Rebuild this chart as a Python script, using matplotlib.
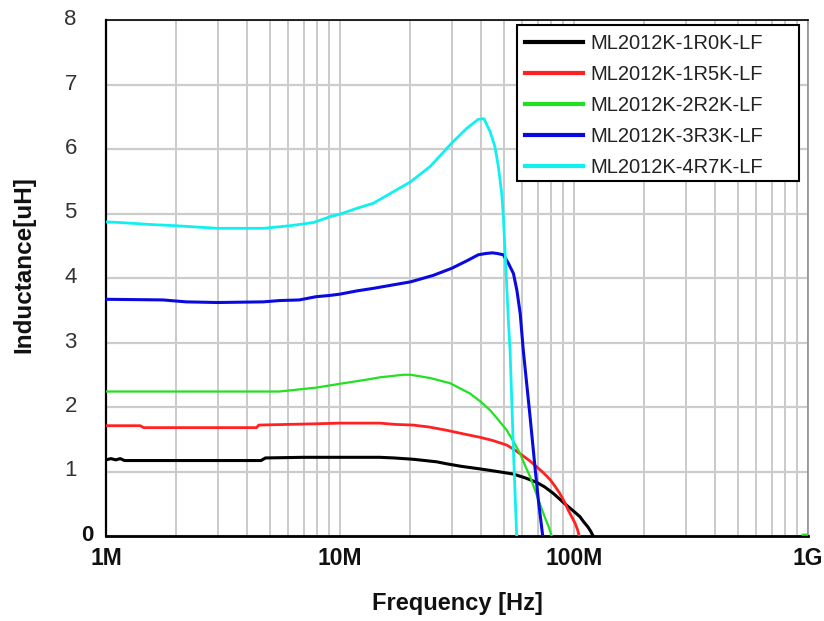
import numpy as np
import matplotlib
matplotlib.use("Agg")
import matplotlib.pyplot as plt
from matplotlib.patches import Rectangle
from matplotlib.transforms import ScaledTranslation

# ---------------- data (frequency in MHz, inductance in uH) ----------------
f_1r0 = [1.0, 1.05, 1.1, 1.15, 1.2, 2, 3, 4.6, 4.8, 7, 10, 14.8, 17, 20.5, 25.9, 28.5,
         33, 39.7, 47, 55.1, 62, 69.4, 75, 81.6, 87, 92.7, 100, 106, 110, 114.7, 118, 120.6]
l_1r0 = [1.18, 1.20, 1.18, 1.20, 1.17, 1.17, 1.17, 1.17, 1.21, 1.22, 1.22, 1.22, 1.21, 1.19,
         1.15, 1.12, 1.08, 1.04, 1.00, 0.96, 0.90, 0.83, 0.76, 0.66, 0.57, 0.48, 0.38, 0.30,
         0.22, 0.14, 0.07, 0.0]

f_1r5 = [1.0, 1.4, 1.45, 4.4, 4.5, 7.9, 10, 14.8, 17.2, 20.5, 24, 28.5, 34, 39.7, 45, 51.6,
         56, 60.7, 65, 69.4, 74, 79.2, 83, 87, 91, 94.5, 98, 101, 103.5, 105.3]
l_1r5 = [1.71, 1.71, 1.68, 1.68, 1.72, 1.74, 1.75, 1.75, 1.73, 1.72, 1.69, 1.64, 1.58, 1.53,
         1.48, 1.41, 1.33, 1.24, 1.16, 1.07, 0.98, 0.87, 0.77, 0.66, 0.53, 0.40, 0.29, 0.20,
         0.10, 0.0]

f_2r2 = [1.0, 5.5, 7.9, 10, 13.3, 14.8, 18.7, 20, 24.2, 29.5, 35.9, 40, 43.8, 47, 51.6, 55,
         58.8, 62, 64.9, 68, 71.3, 74.5, 78.0, 80.3, np.nan, 950, 1000]
l_2r2 = [2.24, 2.24, 2.30, 2.36, 2.43, 2.46, 2.50, 2.50, 2.45, 2.37, 2.21, 2.08, 1.95, 1.82,
         1.64, 1.47, 1.28, 1.08, 0.92, 0.72, 0.51, 0.32, 0.14, 0.0, np.nan, 0.02, 0.02]

f_3r3 = [1.0, 1.75, 2.2, 3, 4.7, 5.5, 6.7, 7.9, 9.06, 10, 11.8, 13.9, 20, 25, 30, 35, 39, 42,
         44.8, 47, 49.9, 52.4, 55.1, 57.0, 58.9, 60.7, 64.9, 68.1, 70.4, 73.5]
l_3r3 = [3.67, 3.66, 3.63, 3.62, 3.63, 3.65, 3.66, 3.71, 3.73, 3.75, 3.80, 3.84, 3.94, 4.04,
         4.15, 4.27, 4.36, 4.38, 4.39, 4.38, 4.36, 4.23, 4.07, 3.81, 3.45, 2.88, 1.85, 1.07,
         0.56, 0.0]

f_4r7 = [1.0, 1.15, 1.54, 2.0, 3.0, 4.0, 4.7, 6.1, 7.7, 9.06, 10, 11.8, 13.9, 20, 24.3, 30,
         34.8, 39, 41.2, 43.8, 45.9, 47.5, 49.1, 49.9, 50.7, 51.6, 52.4, 53.3, 55.1, 56.9]
l_4r7 = [4.87, 4.86, 4.83, 4.81, 4.77, 4.77, 4.77, 4.81, 4.86, 4.95, 4.99, 5.08, 5.16, 5.49,
         5.73, 6.09, 6.32, 6.46, 6.47, 6.27, 6.04, 5.73, 5.31, 4.95, 4.43, 3.87, 3.35, 2.88,
         1.33, 0.0]

labels = ["ML2012K-1R0K-LF", "ML2012K-1R5K-LF", "ML2012K-2R2K-LF",
          "ML2012K-3R3K-LF", "ML2012K-4R7K-LF"]
xtick_vals = [1e6, 1e7, 1e8, 1e9]
xtick_labels = ["1M", "10M", "100M", "1G"]
ytick_vals = [0, 1, 2, 3, 4, 5, 6, 7, 8]

series = [(f_1r0, l_1r0), (f_1r5, l_1r5), (f_2r2, l_2r2), (f_3r3, l_3r3), (f_4r7, l_4r7)]
colors = ["#000000", "#ff2222", "#22e022", "#0a0ae0", "#11f0f0"]
widths = [2.2, 2.0, 1.6, 2.2, 2.0]

# ---------------- figure ----------------
plt.rcParams["font.family"] = ["Liberation Sans", "DejaVu Sans"]
fig = plt.figure(figsize=(8.24, 6.21), dpi=100)
ax = fig.add_axes([106 / 824, 1 - 536 / 621, (808 - 106) / 824, (536 - 20) / 621])

handles = []
for (f, l), c, w, lab in zip(series, colors, widths, labels):
    h, = ax.plot(np.array(f, dtype=float) * 1e6, l, color=c, lw=w, label=lab,
                 solid_joinstyle="round", zorder=3)
    handles.append(h)

ax.set_xscale("log")
ax.set_xlim(1e6, 1e9)
ax.set_ylim(0, 8)

ax.set_xticks(xtick_vals)
ax.set_xticklabels(xtick_labels, fontsize=16.5, fontweight="bold", color="#111111")
ax.set_xticks([m * 10 ** e for e in (6, 7, 8) for m in range(2, 10)], minor=True)
ax.tick_params(axis="x", which="both", length=0, pad=8)
ax.set_yticks(ytick_vals)
ax.set_yticklabels([str(v) for v in ytick_vals], fontsize=16, color="#333333")
ax.tick_params(axis="y", which="both", length=0, pad=21)

ax.grid(True, axis="x", which="both", color="#c6c6c6", lw=1.3)
ax.grid(True, axis="y", which="major", color="#cccccc", lw=1.6)
ax.set_axisbelow(True)

for s in ("left", "bottom", "top"):
    ax.spines[s].set_color("black")
ax.spines["left"].set_linewidth(1.6)
ax.spines["bottom"].set_linewidth(2.0)
ax.spines["top"].set_linewidth(1.2)
ax.spines["right"].set_color("#909090")
ax.spines["right"].set_linewidth(1.2)

ax.set_xlabel("Frequency [Hz]", fontsize=17, fontweight="bold", color="#111111", va="top")
ax.xaxis.set_label_coords(0.5, -0.108)
ax.set_ylabel("Inductance[uH]", fontsize=17.5, fontweight="bold", color="#111111")
ax.yaxis.set_label_coords(-0.101, 0.526)

# "0" label is bold and closer to the axis in the reference
ticks = ax.yaxis.get_major_ticks()
ticks[0].set_pad(9)
ticks[0].label1.set_fontweight("bold")
ticks[0].label1.set_color("#111111")
for t in ticks:
    t.label1.set_transform(t.label1.get_transform() +
                           ScaledTranslation(0, 3 / 100, fig.dpi_scale_trans))

# legend box
frame = Rectangle((0.5855, 0.688), 0.4017, 0.3023, transform=ax.transAxes,
                  facecolor="white", edgecolor="black", lw=1.5, zorder=4)
ax.add_patch(frame)
leg = ax.legend(handles=handles, labels=labels, loc="upper left",
                bbox_to_anchor=(0.5969, 0.973), frameon=False, borderaxespad=0,
                borderpad=0, fontsize=14.5, handlelength=2.88, handletextpad=0.35,
                labelspacing=0.6)
leg.set_zorder(5)
for txt in leg.get_texts():
    txt.set_color("#222222")
for lh in leg.get_lines():
    lh.set_linewidth(3.0)

fig.savefig("out.png", dpi=100, facecolor="white")
